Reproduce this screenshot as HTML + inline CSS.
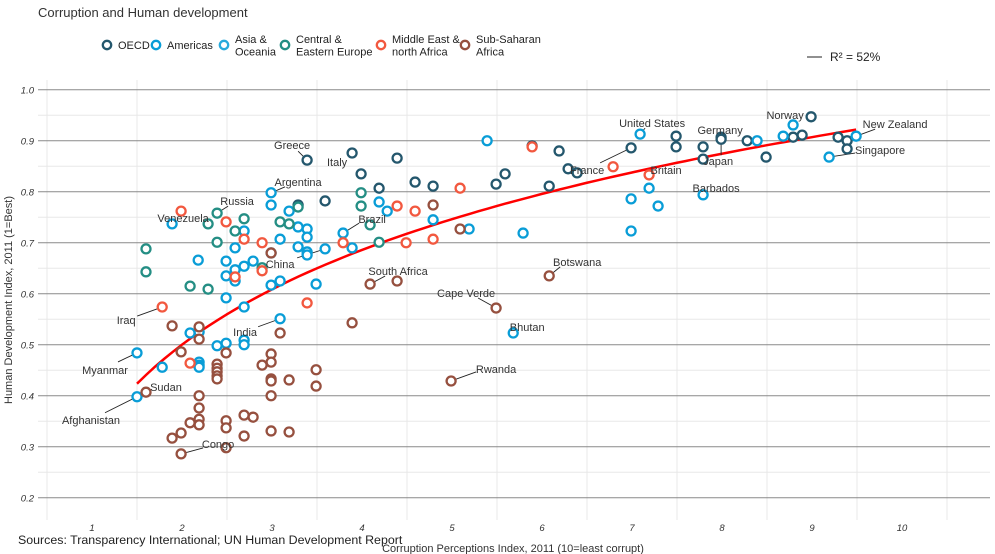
<!DOCTYPE html>
<html><head><meta charset="utf-8">
<style>
html,body{margin:0;padding:0;background:#fff;}
svg{display:block;font-family:"Liberation Sans",sans-serif;}
</style></head>
<body>
<svg id="chart" width="995" height="554" viewBox="0 0 995 554">
  <text x="38" y="17" font-size="13" fill="#333">Corruption and Human development</text>
  <g id="legend" font-size="11" fill="#222"></g>
  <g>
    <line x1="807" y1="57" x2="822" y2="57" stroke="#222" stroke-width="1"/>
    <text x="830" y="61" font-size="12" fill="#222">R² = 52%</text>
  </g>
  <g id="grid"></g>
  <g id="ticks" font-size="9.5" font-style="italic" fill="#333"></g>
  <path id="trend" fill="none" stroke="#ff0000" stroke-width="2.5"/>
  <g id="leaders"></g>
  <g id="points"></g>
  <g id="labels" font-size="11" fill="#333"></g>
  <text transform="translate(12,300) rotate(-90)" text-anchor="middle" font-size="11" fill="#333">Human Development Index, 2011 (1=Best)</text>
  <text x="513" y="552" text-anchor="middle" font-size="11" fill="#333">Corruption Perceptions Index, 2011 (10=least corrupt)</text>
  <text x="18" y="544" font-size="12.4" fill="#222">Sources: Transparency International; UN Human Development Report</text>
</svg>
<script>
const regionNames = ["OECD","Americas","Asia &|Oceania","Central &|Eastern Europe","Middle East &|north Africa","Sub-Saharan|Africa"];
const regionColors = ["#24576D","#099DD7","#28AADC","#248E84","#F2583F","#96503F"];
const xTicks = [1,2,3,4,5,6,7,8,9,10];
const yTicks = [0.2,0.3,0.4,0.5,0.6,0.7,0.8,0.9,1.0];
const yTickLabels = ["0.2","0.3","0.4","0.5","0.6","0.7","0.8","0.9","1.0"];

const oecdCpi = [3.39,3.89,4.39,3.99,4.19,4.59,4.79,3.59,5.49,5.59,5.89,6.19,6.08,6.29,6.39,6.99,7.49,7.49,7.79,7.79,7.99,7.99,8.28,8.49,8.89,8.99,8.79,9.29,9.39,9.39,3.29];
const oecdHdi = [0.862,0.876,0.866,0.835,0.807,0.819,0.811,0.782,0.815,0.835,0.890,0.880,0.811,0.845,0.837,0.886,0.909,0.888,0.888,0.864,0.907,0.903,0.900,0.868,0.911,0.947,0.907,0.907,0.900,0.884,0.774];
const amerCpi = [7.09,8.39,8.68,8.79,7.79,7.19,6.99,7.29,6.99,5.79,9.19,9.49,5.39,3.19,4.19,4.28,4.79,5.19,3.79,3.89,3.59,3.39,3.39,3.29,3.29,3.39,3.39,3.09,3.09,3.49,2.99,2.99,2.69,1.89,2.59,2.99,2.18,2.49,2.79,2.69,2.59,2.49,2.59,2.99,2.49,2.69,3.09,2.09,2.19,2.39,2.49,2.69,2.69,1.5,1.78,2.19,2.19,2.19,1.5,5.68];
const amerHdi = [0.913,0.900,0.909,0.931,0.794,0.807,0.786,0.772,0.723,0.719,0.868,0.909,0.900,0.762,0.780,0.762,0.745,0.727,0.719,0.690,0.688,0.727,0.711,0.731,0.692,0.682,0.676,0.707,0.625,0.619,0.798,0.774,0.723,0.737,0.690,0.680,0.666,0.664,0.664,0.654,0.647,0.635,0.625,0.617,0.592,0.574,0.551,0.523,0.525,0.498,0.503,0.509,0.500,0.484,0.456,0.466,0.460,0.456,0.398,0.523];
const ceeCpi = [2.39,2.69,2.29,2.59,2.39,1.6,1.6,2.09,2.29,3.09,3.19,3.29,2.89,3.99,3.99,4.09,4.19];
const ceeHdi = [0.758,0.747,0.737,0.723,0.701,0.688,0.643,0.615,0.609,0.741,0.737,0.770,0.651,0.798,0.772,0.735,0.701];
const menaCpi = [1.99,2.49,2.69,2.89,2.59,2.89,1.78,3.39,3.79,2.09,4.39,4.59,5.09,4.49,4.79,5.89,6.79,7.19];
const menaHdi = [0.762,0.741,0.707,0.700,0.633,0.645,0.574,0.582,0.700,0.464,0.772,0.762,0.807,0.700,0.707,0.888,0.849,0.833];
const ssaCpi = [2.99,1.89,2.19,2.19,3.09,3.89,1.99,2.49,2.39,2.39,2.39,2.39,2.39,2.89,2.99,2.99,2.99,2.99,3.19,3.49,3.49,1.6,2.19,2.19,2.19,2.19,2.09,1.99,1.89,2.49,2.49,2.69,2.79,2.69,2.99,2.99,3.19,1.99,2.49,4.79,5.09,4.09,4.39,5.49,6.08,4.99];
const ssaHdi = [0.680,0.537,0.535,0.511,0.523,0.543,0.486,0.484,0.462,0.454,0.447,0.439,0.433,0.460,0.482,0.466,0.433,0.429,0.431,0.451,0.419,0.407,0.400,0.376,0.354,0.343,0.347,0.327,0.317,0.351,0.337,0.362,0.358,0.321,0.400,0.331,0.329,0.286,0.298,0.774,0.727,0.619,0.625,0.572,0.635,0.429];

const labelNames = ["Greece","Italy","Argentina","Russia","Venezuela","Brazil","China","South Africa","Iraq","India","Myanmar","Sudan","Afghanistan","Congo","Rwanda","Cape Verde","Bhutan","Botswana","France","United States","Britain","Germany","Japan","Barbados","Norway","New Zealand","Singapore"];
const labelCpi = [3.39,3.89,2.99,2.39,1.89,3.79,3.59,4.09,1.78,3.09,1.5,1.6,1.5,1.99,4.99,5.49,5.68,6.08,6.99,7.09,7.19,7.99,7.99,7.79,8.99,9.49,9.19];
const labelHdi = [0.862,0.876,0.798,0.758,0.737,0.719,0.688,0.619,0.574,0.551,0.484,0.407,0.398,0.286,0.429,0.572,0.523,0.635,0.886,0.913,0.833,0.907,0.903,0.794,0.947,0.909,0.868];
const labelPos = [[-15,-15,-9,-9],[-15,9,0,0],[27,-11,14,-6],[20,-12,11,-7],[11,-6,0,0],[29,-14,16,-10],[-45,15,-28,9],[28,-13,15,-8],[-36,13,-25,9],[-35,13,-22,8],[-32,17,-19,9],[20,-5,0,0],[-46,23,-32,16],[37,-10,22,-6],[45,-12,25,-9],[-30,-15,-18,-10],[14,-6,0,0],[28,-14,11,-9],[-44,22,-31,15],[12,-11,5,-6],[17,-5,0,0],[-1,-7,0,0],[-3,22,0,16],[13,-7,0,0],[-26,-2,0,0],[39,-12,19,-7],[51,-7,26,-4]];

const NS = "http://www.w3.org/2000/svg";
const X = v => 2 + v * 90;
const Y = v => (1.176 - v) * 510;
function mk(tag, attrs, parent){const e=document.createElementNS(NS,tag);for(const k in attrs)e.setAttribute(k,attrs[k]);parent.appendChild(e);return e;}

const grid = document.getElementById('grid');
for (let v = 0.25; v < 1.0; v += 0.1) {
  const l = mk('line',{x1:38,x2:990,y1:Y(v),y2:Y(v),stroke:'#e8e8e8','stroke-width':1},grid);
  
  
}
for (let v = 0.5; v < 11; v += 1) {
  const l = mk('line',{x1:X(v),x2:X(v),y1:80,y2:520,stroke:'#e8e8e8','stroke-width':1},grid);
  
  
}
yTicks.forEach(v => {
  const l = mk('line',{x1:38,x2:990,y1:Y(v),y2:Y(v),stroke:'#8a8a8a','stroke-width':1},grid);
  
  
});
const ticks = document.getElementById('ticks');
yTicks.forEach((v,i) => {
  const t = mk('text',{x:34,y:Y(v)+3.5,'text-anchor':'end'},ticks);
  t.textContent = yTickLabels[i];
  
  
});
xTicks.forEach(v => {
  const t = mk('text',{x:X(v),y:531,'text-anchor':'middle'},ticks);
  t.textContent = String(v);
  
  
});

const groups = [[oecdCpi,oecdHdi,0],[amerCpi,amerHdi,1],[ceeCpi,ceeHdi,3],[menaCpi,menaHdi,4],[ssaCpi,ssaHdi,5]];
const pts = document.getElementById('points');
const allX = [], allY = [];
groups.forEach(([xs,ys,ci]) => {
  xs.forEach((x,i) => {
    allX.push(x); allY.push(ys[i]);
    const c = mk('circle',{cx:X(x),cy:Y(ys[i]),r:4.5,fill:'#fff',stroke:regionColors[ci],'stroke-width':2.3},pts);
    
    
  });
});

(function(){
  const n = allX.length;
  const f = x => [1, x, Math.log(x)];
  const A = [[0,0,0],[0,0,0],[0,0,0]], B = [0,0,0];
  for (let i=0;i<n;i++){const r=f(allX[i]);for(let j=0;j<3;j++){B[j]+=r[j]*allY[i];for(let k=0;k<3;k++)A[j][k]+=r[j]*r[k];}}
  for (let i=0;i<3;i++){for(let j=i+1;j<3;j++){const m=A[j][i]/A[i][i];for(let k=i;k<3;k++)A[j][k]-=m*A[i][k];B[j]-=m*B[i];}}
  const c=[0,0,0];
  for (let i=2;i>=0;i--){let s=B[i];for(let k=i+1;k<3;k++)s-=A[i][k]*c[k];c[i]=s/A[i][i];}
  const lo = Math.min(...allX), hi = Math.max(...allX);
  let d = '';
  for (let s=0;s<=80;s++){const x=lo+(hi-lo)*s/80;const y=c[0]+c[1]*x+c[2]*Math.log(x);d+=(s?'L':'M')+X(x).toFixed(1)+','+Y(y).toFixed(1);}
  document.getElementById('trend').setAttribute('d', d);
})();

const lg = document.getElementById('labels'), ld = document.getElementById('leaders');
labelNames.forEach((nm,i) => {
  const px = X(labelCpi[i]), py = Y(labelHdi[i]);
  const p = labelPos[i];
  if (p[2] || p[3]) {
    const l = mk('line',{x1:px,y1:py,x2:px+p[2],y2:py+p[3],stroke:'#222','stroke-width':0.9},ld);
    
    
  }
  const t = mk('text',{x:px+p[0],y:py+p[1]+4,'text-anchor':'middle'},lg);
  t.textContent = nm;
  
  
});

const leg = document.getElementById('legend');
const legX = [107,156,224,285,381,465];
regionNames.forEach((nm,i) => {
  const g = mk('g',{},leg);
  
  
  mk('circle',{cx:legX[i],cy:45,r:4.2,fill:'#fff',stroke:regionColors[i],'stroke-width':2.3},g);
  const parts = nm.split('|');
  parts.forEach((s,j) => {
    const t = mk('text',{x:legX[i]+11,y: parts.length===1 ? 49 : 43 + j*12.5},g);
    t.textContent = s;
  });
});
</script>
</body></html>
